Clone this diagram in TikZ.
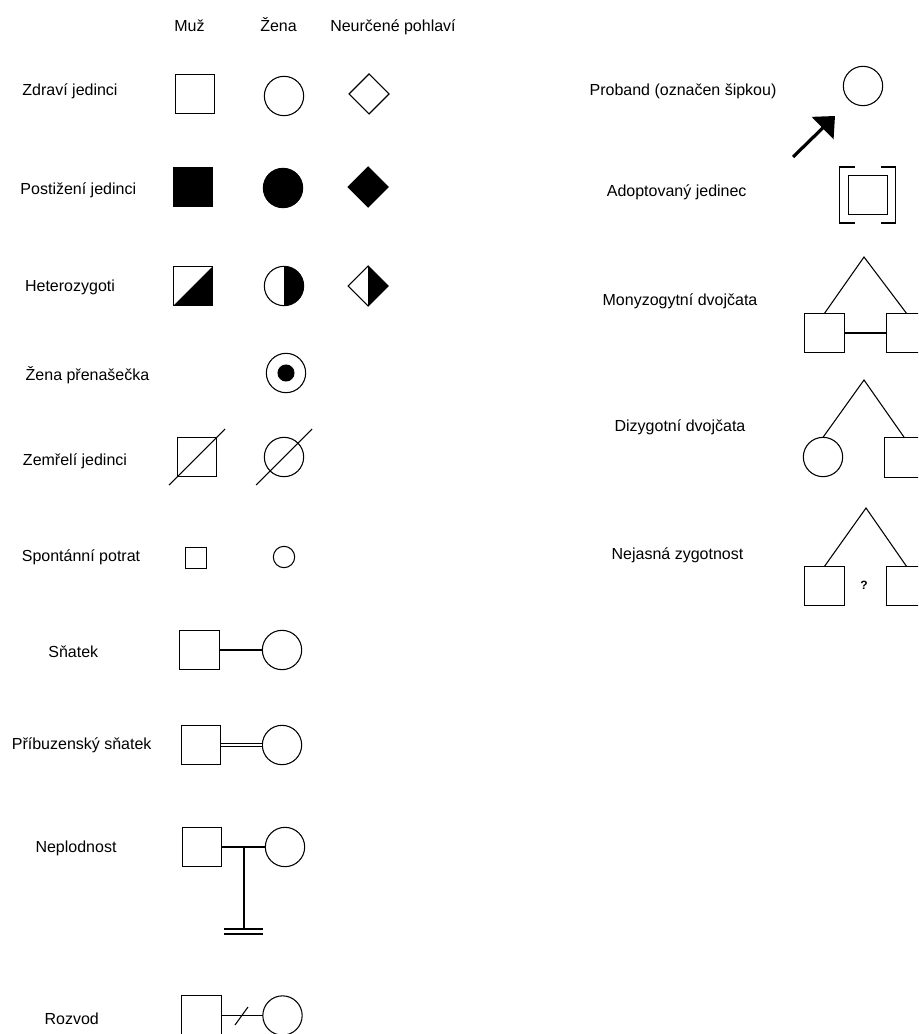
\documentclass[tikz,border=0pt]{standalone}
\usepackage{fontspec}
\setmainfont{Liberation Sans}
\usetikzlibrary{shapes.geometric,arrows.meta}

\tikzset{
  sym/.style={draw, line width=0.8pt, inner sep=0pt, outer sep=0pt},
  male/.style={sym, rectangle, minimum size=29.5pt},
  female/.style={sym, circle, minimum size=29.5pt},
  unknown/.style={sym, diamond, minimum width=30pt, minimum height=30pt},
  lbl/.style={anchor=base, inner sep=0pt, font=\fontsize{12}{14}\selectfont},
  link/.style={line width=0.8pt},
}

\begin{document}
\begin{tikzpicture}[x=0.75pt, y=-0.75pt]
\clip (0,0) rectangle (918,1034);
% column heads
\node[lbl] (hm) at (189.5,32) {Muž};
\node[lbl] (hf) at (278.5,32) {Žena};
\node[lbl] (hu) at (393,32) {Neurčené pohlaví};
% Zdraví jedinci
\node[lbl] (t1) at (70,96) {Zdraví jedinci};
\node[male] (m1) at (195,94) {};
\node[female] (f1) at (284,96) {};
\node[unknown] (u1) at (369,94) {};
% Postižení jedinci
\node[lbl] (t2) at (78.3,195) {Postižení jedinci};
\node[male, fill] (m2) at (193,187) {};
\node[female, fill] (f2) at (283,188) {};
\node[unknown, fill] (u2) at (368,187) {};
% Heterozygoti (half filled)
\node[lbl] (t3) at (70,291) {Heterozygoti};
\node[male] (m3) at (193,286) {};
\fill (m3.south west) -- (m3.south east) -- (m3.north east) -- cycle;
\node[female] (f3) at (284,286) {};
\fill (f3.north) arc[start angle=90, end angle=-90, radius=14.75pt] -- cycle;
\node[unknown] (u3) at (368,286) {};
\fill (u3.north) -- (u3.east) -- (u3.south) -- cycle;
% Zena prenasecka
\node[lbl] (t4) at (87.5,380) {Žena přenašečka};
\node[female] (f4) at (286,373) {};
\node[sym, circle, fill, minimum size=12pt] (f4c) at (f4) {};
% Zemreli jedinci
\node[lbl] (t5) at (75,465) {Zemřelí jedinci};
\node[male] (m5) at (197,457) {};
\draw[link] ([shift={(-28,28)}]m5.center) -- ([shift={(28,-28)}]m5.center);
\node[female] (f5) at (284,457) {};
\draw[link] ([shift={(-28,28)}]f5.center) -- ([shift={(28,-28)}]f5.center);
% Spontanni potrat
\node[lbl] (t6) at (81,561) {Spontánní potrat};
\node[male, minimum size=16pt] (m6) at (196,558) {};
\node[female, minimum size=16pt] (f6) at (284,557) {};
% Snatek
\node[lbl] (t7) at (73.3,657) {Sňatek};
\node[male] (m7) at (199.5,650) {};
\node[female] (f7) at (282,650) {};
\draw[link] (m7) -- (f7);
% Pribuzensky snatek
\node[lbl] (t8) at (81.7,749) {Příbuzenský sňatek};
\node[male] (m8) at (201,745) {};
\node[female] (f8) at (282,745) {};
\draw[link, double, double distance=1.5pt] (m8) -- (f8);
% Neplodnost
\node[lbl] (t9) at (76,852) {Neplodnost};
\node[male] (m9) at (202,847) {};
\node[female] (f9) at (285,847) {};
\draw[link] (m9) -- (f9);
\coordinate (n9) at (244,847);
\coordinate (n9b) at (244,929);
\draw[link] (n9) -- (n9b);
\coordinate (n9l) at (224,929);
\coordinate (n9r) at (263,929);
\draw[link] (n9l) -- (n9r);
\draw[link] ([yshift=-3.75pt]n9l) -- ([yshift=-3.75pt]n9r);
% Rozvod
\node[lbl] (t10) at (71.7,1024) {Rozvod};
\node[male] (m10) at (201.5,1015.5) {};
\node[female] (f10) at (282.5,1015.5) {};
\draw[link] (m10) -- (f10);
\coordinate (r10) at (241.5,1016);
\draw[link] ([shift={(-6.5,9)}]r10) -- ([shift={(6.5,-9)}]r10);

% Proband
\node[lbl] (t11) at (683,96) {Proband (označen šipkou)};
\node[female] (pf) at (863,86) {};
\coordinate (pa) at (793,157);
\coordinate (pb) at (835,116);
\draw[line width=2.4pt, -{Triangle[length=13pt, width=23pt]}] (pa) -- (pb);
% Adoptovany jedinec
\node[lbl] (t12) at (676.7,197) {Adoptovaný jedinec};
\node[male] (ad) at (868,195) {};
\node[minimum width=41.5pt, minimum height=42pt, inner sep=0pt, outer sep=0pt] (adb) at (867.5,195) {};
\draw[link] ([xshift=11pt]adb.north west) -- (adb.north west) -- (adb.south west) -- ([xshift=11pt]adb.south west);
\draw[link] ([xshift=-11pt]adb.north east) -- (adb.north east) -- (adb.south east) -- ([xshift=-11pt]adb.south east);
% Monozygotni dvojcata
\node[lbl] (t13) at (680,305) {Monyzogytní dvojčata};
\node[male] (mz1) at (824.5,333) {};
\node[male] (mz2) at (906.5,333) {};
\coordinate (mza) at (864,257);
\draw[link] (mz1.north) -- (mza) -- (mz2.north);
\draw[link] (mz1) -- (mz2);
% Dizygotni dvojcata
\node[lbl] (t14) at (680,431.5) {Dizygotní dvojčata};
\node[female] (dz1) at (823,457) {};
\node[male] (dz2) at (904.5,457.5) {};
\coordinate (dza) at (864,380);
\draw[link] (dz1.north) -- (dza) -- (dz2.north);
% Nejasna zygotnost
\node[lbl] (t15) at (677.5,559) {Nejasná zygotnost};
\node[male] (uz1) at (824.5,586) {};
\node[male] (uz2) at (906.5,586) {};
\coordinate (uza) at (866,508);
\draw[link] (uz1.north) -- (uza) -- (uz2.north);
\node[font=\bfseries\fontsize{9}{10}\selectfont, inner sep=0pt] (uq) at (864,585) {?};
\end{tikzpicture}
\end{document}
